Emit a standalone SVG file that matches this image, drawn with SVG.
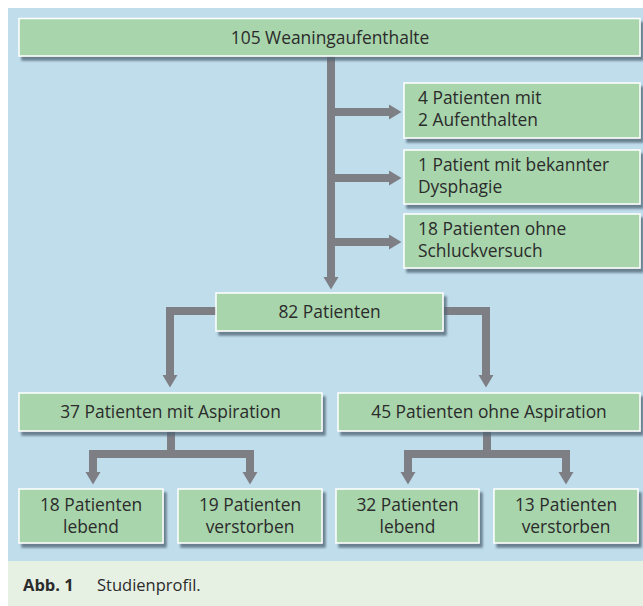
<svg xmlns="http://www.w3.org/2000/svg" width="643" height="606" viewBox="0 0 643 606">
<style>
.box{fill:#a8d5ac;stroke:#ffffff;stroke-width:1.5;filter:url(#sh)}
.t{font-family:"Open Sans","Liberation Sans",sans-serif;font-size:17.4px;fill:#2b2b2b}
.cap{font-family:"Open Sans","Liberation Sans",sans-serif;font-size:16.5px;fill:#2b2b2b}
.c{text-anchor:middle}
.con{fill:none;stroke:#7e7f84;stroke-width:8;stroke-linejoin:miter}
</style>
<defs>
<filter id="sh" x="-5%" y="-20%" width="110%" height="150%">
<feDropShadow dx="3" dy="4" stdDeviation="1.3" flood-color="#4d6272" flood-opacity="0.75"/>
</filter>
<marker id="ah" markerUnits="userSpaceOnUse" viewBox="0 -8 13 16" refX="0" refY="0" markerWidth="13" markerHeight="16" orient="auto">
<path d="M0,-7.5 L12.5,0 L0,7.5 z" fill="#7e7f84"/>
</marker>
</defs>
<rect x="8" y="8" width="635" height="553" fill="#c0ddec"/>
<rect x="8" y="561" width="635" height="45" fill="#e6f1e4"/>

<g id="connectors">
<path class="con" d="M331,56 V277" marker-end="url(#ah)"/>
<path class="con" d="M331,112 H389" marker-end="url(#ah)"/>
<path class="con" d="M331,178 H389" marker-end="url(#ah)"/>
<path class="con" d="M331,242 H389" marker-end="url(#ah)"/>
<path class="con" d="M216,311 H170 V375" marker-end="url(#ah)"/>
<path class="con" d="M443,311 H486 V375" marker-end="url(#ah)"/>
<path class="con" d="M171,431 V454"/>
<path class="con" d="M171,454 H93 V472" marker-end="url(#ah)"/>
<path class="con" d="M171,454 H250 V472" marker-end="url(#ah)"/>
<path class="con" d="M487,431 V454"/>
<path class="con" d="M487,454 H408 V472" marker-end="url(#ah)"/>
<path class="con" d="M487,454 H566 V472" marker-end="url(#ah)"/>
</g>

<g id="n105"><rect class="box" x="19" y="18.5" width="621" height="37.5"/><text class="t c" x="330" y="43.5">105 Weaningaufenthalte</text></g>
<g id="n4"><rect class="box" x="404" y="83" width="236" height="55"/><text class="t" x="418" y="104">4 Patienten mit</text><text class="t" x="418" y="126">2 Aufenthalten</text></g>
<g id="n1"><rect class="box" x="404" y="150" width="236" height="54"/><text class="t" x="418" y="170.5">1 Patient mit bekannter</text><text class="t" x="418" y="192.5">Dysphagie</text></g>
<g id="n18o"><rect class="box" x="404" y="214" width="236" height="54"/><text class="t" x="418" y="235">18 Patienten ohne</text><text class="t" x="418" y="257">Schluckversuch</text></g>
<g id="n82"><rect class="box" x="216" y="293" width="227" height="38"/><text class="t c" x="329.5" y="318">82 Patienten</text></g>
<g id="n37"><rect class="box" x="19" y="393" width="303" height="38"/><text class="t c" x="170.5" y="418">37 Patienten mit Aspiration</text></g>
<g id="n45"><rect class="box" x="338" y="393" width="302" height="38"/><text class="t c" x="489" y="418">45 Patienten ohne Aspiration</text></g>
<g id="n18l"><rect class="box" x="19" y="489" width="144" height="54"/><text class="t c" x="91" y="511">18 Patienten</text><text class="t c" x="91" y="533">lebend</text></g>
<g id="n19v"><rect class="box" x="178" y="489" width="144" height="54"/><text class="t c" x="250" y="511">19 Patienten</text><text class="t c" x="250" y="533">verstorben</text></g>
<g id="n32l"><rect class="box" x="336" y="489" width="143" height="54"/><text class="t c" x="407.5" y="511">32 Patienten</text><text class="t c" x="407.5" y="533">lebend</text></g>
<g id="n13v"><rect class="box" x="494" y="489" width="144" height="54"/><text class="t c" x="566" y="511">13 Patienten</text><text class="t c" x="566" y="533">verstorben</text></g>

<g id="caption"><text class="cap" x="23" y="591" font-weight="bold">Abb. 1</text><text class="cap" x="97" y="591">Studienprofil.</text></g>
</svg>
